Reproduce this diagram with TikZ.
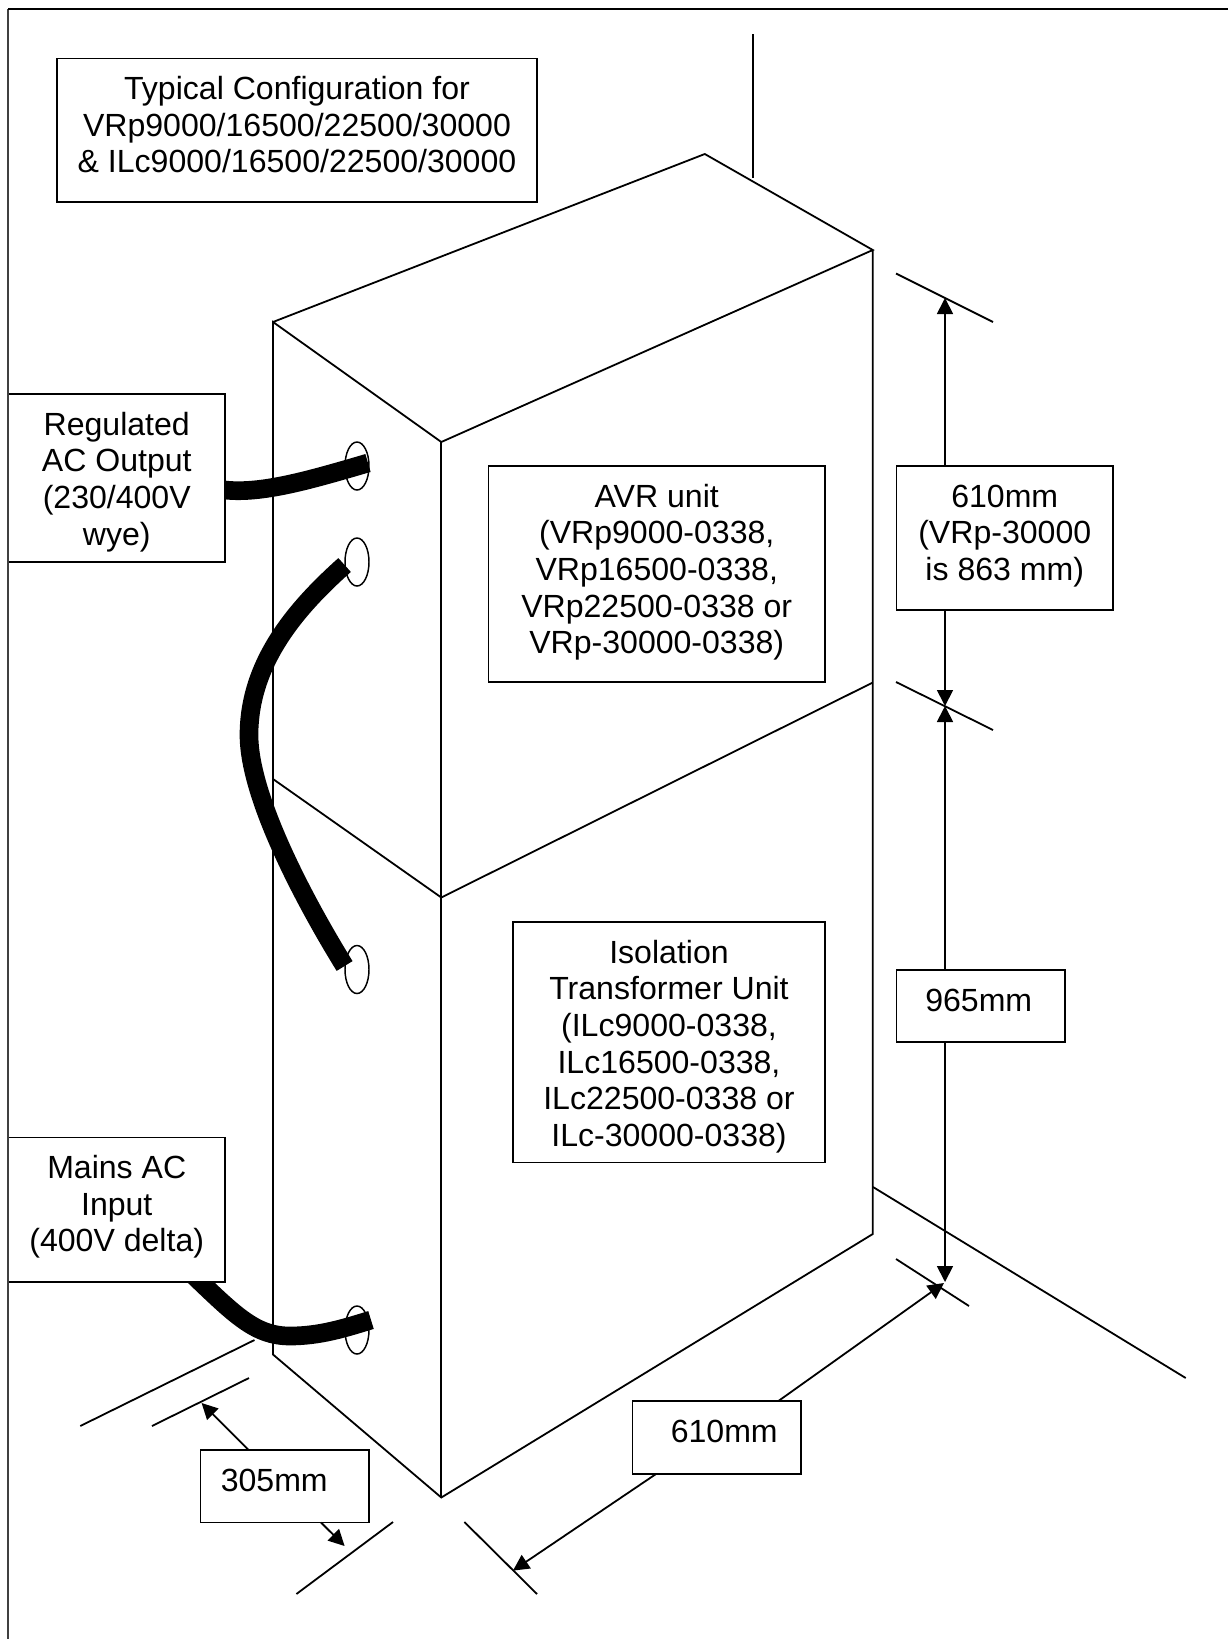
\documentclass[tikz,border=0pt]{standalone}
\usepackage{fontspec}
\setmainfont{Liberation Sans}
\usetikzlibrary{arrows.meta,shapes.geometric,backgrounds}
\newlength{\ux}\setlength{\ux}{0.75pt}
\newcommand{\tbox}[3]{\parbox[c][#2\ux][t]{#1\ux}{\fontsize{24.05pt}{27.5pt}\selectfont\centering\rule{0pt}{41\ux}#3\par}}
\tikzset{
  ln/.style={line width=1.35pt,black},
  bx/.style={draw,fill=white,line width=1.35pt,inner sep=0pt,outer sep=0pt,anchor=north west},
  port/.style={draw,ellipse,line width=1.1pt,inner sep=0pt,outer sep=0pt,minimum width=24\ux,minimum height=48\ux},
  cable/.style={line width=14pt,line cap=butt,black},
  dim/.style={line width=1.35pt,-{Triangle[length=12pt,width=12pt]}},
}
\begin{document}
\begin{tikzpicture}[x=0.75pt,y=-0.75pt]
\useasboundingbox (0,0) rectangle (1228,1639);
% labelled boxes
\node[bx] (title) at (57,58.5) {\tbox{480}{143.5}{Typical Configuration for\\VRp9000/16500/22500/30000\\\& ILc9000/16500/22500/30000}};
\node[bx] (reg) at (8.5,394) {\tbox{216.5}{168}{Regulated\\AC Output\\(230/400V\\wye)}};
\node[bx] (mains) at (8.5,1137.5) {\tbox{216.5}{144.5}{Mains AC\\Input\\(400V delta)}};
\node[bx] (avr) at (488.5,466) {\tbox{336.5}{216}{AVR unit\\(VRp9000-0338,\\VRp16500-0338,\\VRp22500-0338 or\\VRp-30000-0338)}};
\node[bx] (iso) at (513,922) {\tbox{312}{240.5}{Isolation\\Transformer Unit\\(ILc9000-0338,\\ILc16500-0338,\\ILc22500-0338 or\\ILc-30000-0338)}};
\node[bx] (dtop) at (896.5,466) {\tbox{216.5}{144}{610mm\\(VRp-30000\\is 863 mm)}};
\node[bx] (dmid) at (896.5,970) {\tbox{168.5}{72}{\hspace*{-4\ux}965mm}};
\node[bx] (dbot) at (632.5,1401) {\tbox{168.5}{73}{\hspace*{15\ux}610mm}};
\node[bx] (dsmall) at (200.5,1450) {\tbox{168.5}{72.5}{\hspace*{-21\ux}305mm}};
% cuboid corners
\coordinate (A1) at (273,322);
\coordinate (B1) at (441.3,442);
\coordinate (C1) at (872.8,250);
\coordinate (D1) at (704.8,154);
\coordinate (A2) at (273,779);
\coordinate (B2) at (441.3,897.5);
\coordinate (C2) at (872.8,682.5);
\coordinate (A3) at (273,1354.5);
\coordinate (B3) at (441.3,1497.5);
\coordinate (C3) at (872.8,1234);
\coordinate (E1) at (753,34);
\coordinate (E2) at (753,178);
\coordinate (F1) at (873,1187);
\coordinate (F2) at (1185.7,1378);
\coordinate (G1) at (254.5,1340);
\coordinate (G2) at (80.3,1426);
% dimension ticks
\coordinate (T1a) at (896,273.5);
\coordinate (T1b) at (993,322);
\coordinate (T2a) at (896,682);
\coordinate (T2b) at (993,730);
\coordinate (T3a) at (896,1259);
\coordinate (T3b) at (969,1306);
\coordinate (T4a) at (152,1426);
\coordinate (T4b) at (249,1378);
\coordinate (T5a) at (296.4,1594);
\coordinate (T5b) at (393,1522);
\coordinate (T6a) at (464.4,1522);
\coordinate (T6b) at (537,1594);
% arrow tips and starts
\coordinate (V1) at (945,298);
\coordinate (V2) at (945,706);
\coordinate (V3) at (945,1282);
\coordinate (S1) at (778.4,1401);
\coordinate (S1t) at (944,1283);
\coordinate (S2) at (656,1474);
\coordinate (S2t) at (513,1570.6);
\coordinate (S3) at (248.6,1450);
\coordinate (S3t) at (201.6,1403);
\coordinate (S4) at (321,1522.5);
\coordinate (S4t) at (344.6,1546);
% frame
\coordinate (FA) at (8,1639);
\coordinate (FB) at (8,9);
\coordinate (FC) at (1228,9);
\draw[line width=1.6pt,black!75] (FA) -- (FB);
\draw[ln] (FB) -- (FC);
% cable ends
\coordinate (K1a) at (225,490);
\coordinate (K1b) at (368,463);
\coordinate (K2a) at (344.6,565);
\coordinate (K2m) at (249,735);
\coordinate (K2b) at (344.6,966);
\coordinate (K3a) at (190,1272);
\coordinate (K3m) at (290,1336);
\coordinate (K3b) at (371,1320);
\begin{scope}[on background layer]
\draw[ln,line join=miter] (A1) -- (D1) -- (C1) -- (B1) -- (A1) -- (A3) -- (B3) -- (C3) -- (C1);
\draw[ln] (B1) -- (B3);
\draw[ln] (A2) -- (B2) -- (C2);
\draw[ln] (E1) -- (E2);
\draw[ln] (F1) -- (F2);
\draw[ln] (G1) -- (G2);
\draw[ln] (T1a) -- (T1b);
\draw[ln] (T2a) -- (T2b);
\draw[ln] (T3a) -- (T3b);
\draw[ln] (T4a) -- (T4b);
\draw[ln] (T5a) -- (T5b);
\draw[ln] (T6a) -- (T6b);
\node[port] (p1) at (357,466) {};
\node[port] (p2) at (357,562) {};
\node[port] (p3) at (357,969.5) {};
\node[port] (p4) at (357,1330) {};
\draw[cable] (K1a) .. controls (262,494) and (310,480) .. (K1b);
\draw[cable] (K2a) .. controls (300,605) and (249,660) .. (K2m) .. controls (249,800) and (310,910) .. (K2b);
\draw[cable] (K3a) .. controls (235,1315) and (255,1336) .. (K3m) .. controls (320,1336) and (345,1328) .. (K3b);
\end{scope}
% dimension arrows
\draw[dim] (V1 |- dtop.north) -- (V1);
\draw[dim] (V2 |- dtop.south) -- (V2);
\draw[dim] (V2 |- dmid.north) -- (V2);
\draw[dim] (V3 |- dmid.south) -- (V3);
\draw[dim] (S1) -- (S1t);
\draw[dim] (S2) -- (S2t);
\draw[dim] (S3) -- (S3t);
\draw[dim] (S4) -- (S4t);
\end{tikzpicture}
\end{document}
